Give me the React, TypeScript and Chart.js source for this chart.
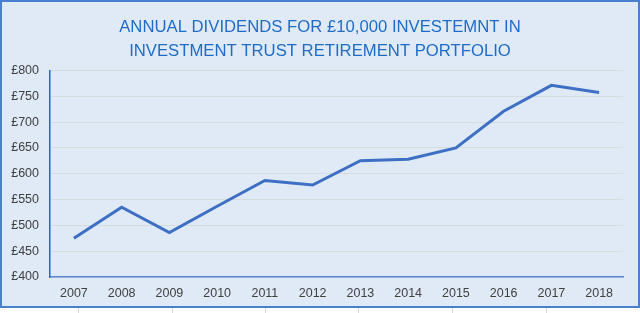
import React, { useEffect, useRef } from "react";
import { Chart, registerables } from "chart.js";

Chart.register(...registerables);

const years = ["2007", "2008", "2009", "2010", "2011", "2012", "2013", "2014", "2015", "2016", "2017", "2018"];
const dividends = [475, 535, 486, 537, 587, 578, 625, 628, 650, 721, 771, 757];
const titleLines = ["ANNUAL DIVIDENDS FOR £10,000 INVESTEMNT IN", "INVESTMENT TRUST RETIREMENT PORTFOLIO"];
const yMin = 400;
const yMax = 800;
const yStep = 50;

export default function App() {
  const ref = useRef<HTMLCanvasElement | null>(null);

  useEffect(() => {
    document.body.style.margin = "0";
    const ctx = ref.current;
    if (!ctx) return;
    const chart = new Chart(ctx, {
      type: "line",
      data: {
        labels: years,
        datasets: [
          {
            label: "Dividends",
            data: dividends,
            borderColor: "#3d6fc4",
            borderWidth: 3,
            pointRadius: 0,
            tension: 0,
            fill: false,
          },
        ],
      },
      options: {
        animation: false,
        responsive: false,
        maintainAspectRatio: false,
        layout: { padding: { left: 0, right: 0, top: 0, bottom: 5 } },
        plugins: {
          legend: { display: false },
          tooltip: { enabled: false },
          title: {
            display: true,
            text: titleLines,
            color: "#1f6cc6",
            font: { family: "'Liberation Sans', Arial, sans-serif", size: 16.7, weight: "normal", lineHeight: 1.47 },
            padding: { top: 14.8, bottom: 6.5 },
          },
        },
        scales: {
          x: {
            offset: true,
            grid: { display: false, drawTicks: false },
            border: { display: true, color: "#5a88d2", width: 1.5 },
            ticks: {
              color: "#404040",
              font: { family: "'Liberation Sans', Arial, sans-serif", size: 12.5 },
              padding: 9,
              maxRotation: 0,
              autoSkip: false,
            },
            afterFit: (s: any) => {
              s.height = 31;
            },
          },
          y: {
            min: yMin,
            max: yMax,
            grid: { color: "#d6dbe0", lineWidth: 1, drawTicks: false },
            border: { display: true, color: "#2462cc", width: 1.5 },
            ticks: {
              stepSize: yStep,
              color: "#404040",
              font: { family: "'Liberation Sans', Arial, sans-serif", size: 12.5 },
              padding: 11,
              callback: (v: any) => "£" + v,
            },
            afterFit: (s: any) => {
              s.width = 50;
            },
          },
          yRight: {
            type: "linear",
            position: "right",
            min: yMin,
            max: yMax,
            grid: { display: false, drawTicks: false },
            border: { display: false },
            ticks: { display: false },
            afterFit: (s: any) => {
              s.width = 17;
            },
          },
        },
      },
    });
    return () => chart.destroy();
  }, []);

  const sepXs = [78, 172, 265, 358, 452, 546];

  return (
    <div style={{ position: "relative", width: 640, height: 313, background: "#ffffff", overflow: "hidden" }}>
      {sepXs.map((x) => (
        <div key={x} style={{ position: "absolute", left: x, top: 308, width: 1, height: 5, background: "#d8d8d8" }} />
      ))}
      <div
        style={{
          position: "absolute",
          left: 0,
          top: 0,
          width: 640,
          height: 308,
          boxSizing: "border-box",
          border: "2px solid #4a7fd0",
          background: "#dfeaf6",
        }}
      />
      <canvas ref={ref} width={640} height={313} style={{ position: "absolute", left: 0, top: 0, width: 640, height: 313 }} />
    </div>
  );
}
